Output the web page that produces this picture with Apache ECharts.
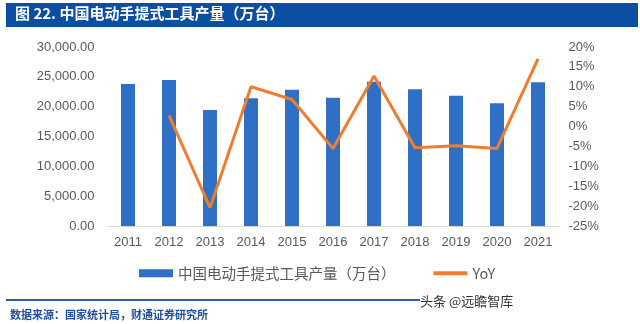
<!DOCTYPE html>
<html>
<head>
<meta charset="utf-8">
<script src="https://cdn.jsdelivr.net/npm/echarts@6/dist/echarts.min.js"></script>
<style>
  html, body { margin: 0; padding: 0; background: #fff; }
  #chart { width: 640px; height: 324px; }
</style>
</head>
<body>
<div id="chart"></div>
<script>
// Categories and series
const years = ['2011', '2012', '2013', '2014', '2015', '2016', '2017', '2018', '2019', '2020', '2021'];
const output = [23800, 24470, 19440, 21400, 22840, 21500, 24180, 22900, 21840, 20560, 24080];
const yoy = [null, 2.8, -20.4, 10.0, 6.8, -5.5, 12.7, -5.3, -4.8, -5.5, 17.0];

const titleText = '图 22. 中国电动手提式工具产量（万台）';
const barName = '中国电动手提式工具产量（万台）';
const lineName = 'YoY';
const sourceText = '数据来源：国家统计局，财通证券研究所';
const markText = '头条 @远瞻智库';

function fmtThousands(v) {
  const parts = v.toFixed(2).split('.');
  parts[0] = parts[0].replace(/\B(?=(\d{3})+(?!\d))/g, ',');
  return parts.join('.');
}

const chart = echarts.init(document.getElementById('chart'), null, { renderer: 'canvas' });
const axisFont = { color: '#595959', fontSize: 13, fontFamily: 'Liberation Sans, Arial, sans-serif' };

chart.setOption({
  animation: false,
  backgroundColor: '#ffffff',
  grid: { left: 107.5, right: 81.5, top: 47, bottom: 98 },
  graphic: [
    { type: 'rect', shape: { x: 6, y: 3, width: 632, height: 24 }, style: { fill: '#0B4EA2' } },
    { type: 'text', left: 15, top: 6, style: { text: titleText, fill: '#ffffff', fontSize: 15, fontWeight: 'bold', fontFamily: 'Noto Sans CJK SC, sans-serif' } },
    { type: 'rect', shape: { x: 6, y: 299, width: 414, height: 2 }, style: { fill: '#2C5FA8' } },
    { type: 'text', left: 10, top: 309, style: { text: sourceText, fill: '#1F4E9E', fontSize: 11, fontWeight: 'bold', fontFamily: 'Noto Sans CJK SC, sans-serif' } },
    { type: 'text', left: 420, top: 295, style: { text: markText, fill: '#333333', fontSize: 13, fontFamily: 'Noto Sans CJK SC, sans-serif' } }
  ],
  legend: {
    top: 266,
    left: 139,
    padding: 0,
    itemGap: 38,
    itemWidth: 34,
    itemHeight: 8,
    textStyle: { color: '#595959', fontSize: 14.5, fontFamily: 'Noto Sans CJK SC, sans-serif', padding: [0, 0, 0, 0] },
    data: [
      { name: barName, icon: 'rect' },
      { name: lineName, icon: 'path://M0,0 L34,0 L34,4 L0,4 Z' }
    ]
  },
  xAxis: {
    type: 'category',
    data: years,
    axisLine: { lineStyle: { color: '#D9D9D9', width: 1 } },
    axisTick: { show: false },
    axisLabel: Object.assign({ margin: 10 }, axisFont)
  },
  yAxis: [
    {
      type: 'value', min: 0, max: 30000, interval: 5000,
      splitLine: { show: false },
      axisLine: { show: false }, axisTick: { show: false },
      axisLabel: Object.assign({ margin: 13, formatter: v => fmtThousands(v) }, axisFont)
    },
    {
      type: 'value', min: -25, max: 20, interval: 5,
      splitLine: { show: false },
      axisLine: { show: false }, axisTick: { show: false },
      axisLabel: Object.assign({ margin: 10, formatter: v => v + '%' }, axisFont)
    }
  ],
  series: [
    {
      name: barName, type: 'bar', data: output, barWidth: 14,
      itemStyle: { color: '#2F6FC6' }
    },
    {
      name: lineName, type: 'line', yAxisIndex: 1, data: yoy,
      showSymbol: false, symbol: 'none',
      lineStyle: { color: '#ED7D31', width: 3 },
      itemStyle: { color: '#ED7D31' }
    }
  ]
});
</script>
</body>
</html>
